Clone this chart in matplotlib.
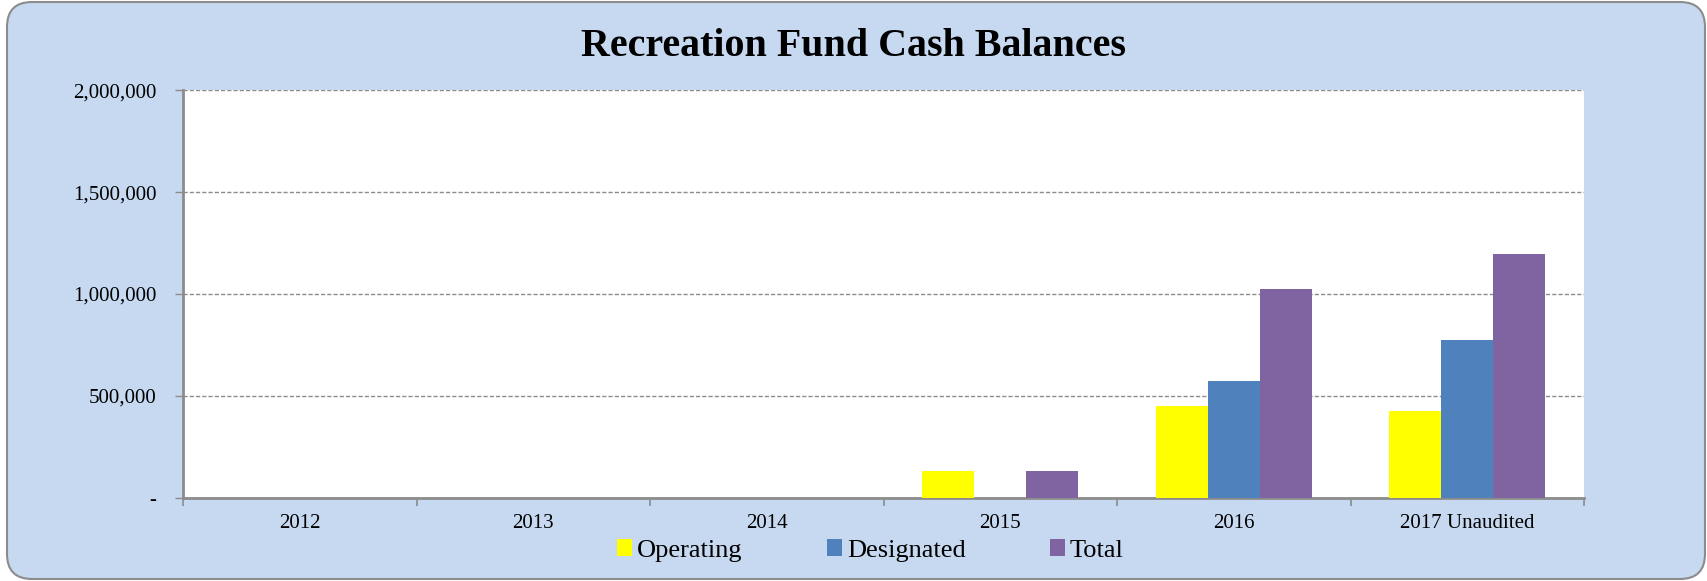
import numpy as np
import matplotlib
matplotlib.use("Agg")
import matplotlib.pyplot as plt
from matplotlib.patches import FancyBboxPatch
from matplotlib.ticker import FuncFormatter, MultipleLocator

plt.rcParams['font.family'] = ['Liberation Serif', 'DejaVu Serif']

years = ['2012', '2013', '2014', '2015', '2016', '2017 Unaudited']
operating = [0, 0, 0, 129000, 450000, 425000]
designated = [0, 0, 0, 0, 571000, 772000]
total = [0, 0, 0, 129000, 1022000, 1198000]

series_names = ['Operating', 'Designated', 'Total']
series_colors = ['#FFFF00', '#4F81BD', '#8064A2']

fig = plt.figure(figsize=(17.07, 5.81), dpi=100)
fig.patch.set_facecolor('white')

# rounded light blue chart area
bg = FancyBboxPatch((0.27, 0.22), 16.58, 5.37,
                    boxstyle='round,pad=0.2,rounding_size=0.25',
                    transform=fig.dpi_scale_trans,
                    facecolor='#C6D9F0', edgecolor='#8C8C8C', linewidth=1.5,
                    zorder=-5)
fig.patches.append(bg)

ax = fig.add_axes([0.1072, 0.1437, 0.8208, 0.7007])
ax.set_facecolor('white')
ax.set_zorder(2)

x = np.arange(len(years))
w = 1 / 4.5
for i, (vals, name, col) in enumerate(zip([operating, designated, total],
                                          series_names, series_colors)):
    ax.bar(x + (i - 1) * w, vals, width=w, color=col, label=name, zorder=3)

ax.set_xlim(-0.5, len(years) - 0.5)
ax.set_ylim(0, 2000000)
ax.yaxis.set_major_locator(MultipleLocator(500000))
ax.yaxis.set_major_formatter(FuncFormatter(lambda v, p: '-' if v == 0 else f'{v:,.0f}'))
ax.grid(axis='y', linestyle=(0, (3, 1.5)), color='#8C8C8C', linewidth=1, zorder=1)

ax.set_xticks(np.arange(-0.5, len(years)), labels=[''] * (len(years) + 1))
ax.set_xticks(x, labels=years, minor=True)
ax.tick_params(axis='x', which='minor', length=0, pad=12, labelsize=15)
ax.tick_params(axis='x', which='major', length=6, color='#8C8C8C', width=1.2)
ax.tick_params(axis='y', length=6, color='#8C8C8C', width=1, labelsize=15, pad=13)

for s in ['top', 'right']:
    ax.spines[s].set_visible(False)
for s in ['left', 'bottom']:
    ax.spines[s].set_color('#8C8C8C')
    ax.spines[s].set_linewidth(2)

fig.text(0.5, 0.92, 'Recreation Fund Cash Balances', ha='center', va='center',
         fontsize=28.8, fontweight='bold')

fig.legend(loc='center', bbox_to_anchor=(0.51, 0.053), ncol=3, frameon=False,
           fontsize=19, handlelength=0.55, handleheight=0.65, handletextpad=0.2,
           columnspacing=3.2)

fig.savefig('out.png', dpi=100)
